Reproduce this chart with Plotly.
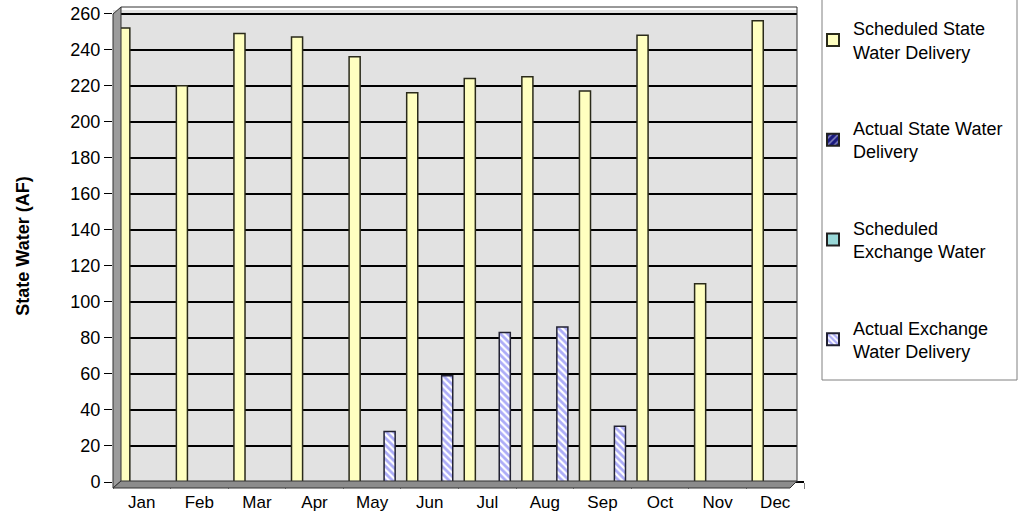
import plotly.graph_objects as go

months = ["Jan", "Feb", "Mar", "Apr", "May", "Jun", "Jul", "Aug", "Sep", "Oct", "Nov", "Dec"]
scheduled_state = [252, 220, 249, 247, 236, 216, 224, 225, 217, 248, 110, 256]
actual_state = [0, 0, 0, 0, 0, 0, 0, 0, 0, 0, 0, 0]
scheduled_exchange = [0, 0, 0, 0, 0, 0, 0, 0, 0, 0, 0, 0]
actual_exchange = [0, 0, 0, 0, 28, 59, 83, 86, 31, 0, 0, 0]
y_ticks = list(range(0, 261, 20))

FONT = "Liberation Sans, Arial, sans-serif"

fig = go.Figure()
fig.add_trace(go.Bar(
    x=months, y=scheduled_state, name="Scheduled State<br>Water Delivery",
    legendgroup="a",
    marker=dict(color="#ffffc0", line=dict(color="#2a2a1a", width=1.5)),
))
fig.add_trace(go.Bar(
    x=months, y=actual_state, name="Actual State Water<br>Delivery",
    legendgroup="b",
    marker=dict(color="#1a1a80", line=dict(color="#222222", width=1.5),
                pattern=dict(shape="/", fgcolor="#ffffff", bgcolor="#1a1a80", size=6, solidity=0.3)),
))
fig.add_trace(go.Bar(
    x=months, y=scheduled_exchange, name="Scheduled<br>Exchange Water",
    legendgroup="c",
    marker=dict(color="#99d8d8", line=dict(color="#222222", width=1.5)),
))
fig.add_trace(go.Bar(
    x=months, y=actual_exchange, name="Actual Exchange<br>Water Delivery",
    legendgroup="d",
    marker=dict(color="#ffffff", line=dict(color="#222233", width=1.5),
                pattern=dict(shape="\\", fgcolor="#5a5af0", bgcolor="#ffffff", size=5, solidity=0.55)),
))

L, R, T, B = 113, 223, 10, 32
W = 1027 - L - R
H = 514 - T - B

def px_x(p):
    return (p - L) / W

def px_y(p):
    return (514 - B - p) / H

shapes = [
    # white strip to the right of the back wall
    dict(type="rect", xref="paper", yref="paper",
         x0=px_x(797), x1=1.0, y0=px_y(481), y1=1.0,
         fillcolor="#ffffff", line=dict(width=0), layer="above"),
    # back wall right edge
    dict(type="line", xref="paper", yref="paper",
         x0=px_x(797), x1=px_x(797), y0=px_y(481), y1=px_y(7),
         line=dict(color="#333333", width=1), layer="above"),
    # left wall (3D look)
    dict(type="path", xref="paper", yref="paper",
         path=f"M 0 {px_y(488)} L 0 {px_y(14)} L {px_x(121)} {px_y(7)} L {px_x(121)} {px_y(481)} Z",
         fillcolor="#9c9c9c", line=dict(color="#333333", width=1), layer="above"),
    # back wall top edge
    dict(type="line", xref="paper", yref="paper",
         x0=px_x(121), x1=px_x(797), y0=px_y(7), y1=px_y(7),
         line=dict(color="#333333", width=1), layer="above"),
    # floor
    dict(type="path", xref="paper", yref="paper",
         path=f"M 0 {px_y(488)} L {px_x(121)} {px_y(481)} L {px_x(797)} {px_y(481)} L {px_x(790)} {px_y(488)} Z",
         fillcolor="#8c8c8c", line=dict(color="#333333", width=1), layer="above"),
    # legend box
    dict(type="rect", xref="paper", yref="paper",
         x0=px_x(822), x1=px_x(1017), y0=px_y(380), y1=px_y(-2),
         line=dict(color="#808080", width=1), fillcolor="rgba(0,0,0,0)"),
]

fig.update_layout(
    width=1027, height=514,
    margin=dict(l=L, r=R, t=T, b=B, autoexpand=False),
    paper_bgcolor="#ffffff",
    plot_bgcolor="#e2e2e2",
    barmode="group",
    bargap=0.19,
    bargroupgap=0.05,
    font=dict(family=FONT, size=18, color="#000000"),
    showlegend=True,
    legend=dict(
        xref="container", yref="container",
        x=813 / 1027, y=1.0 - 10 / 514, xanchor="left", yanchor="top",
        borderwidth=0, bgcolor="rgba(0,0,0,0)",
        font=dict(family=FONT, size=18, color="#000000"),
        tracegroupgap=50,
        itemsizing="constant",
        traceorder="grouped",
        maxheight=1.0,
    ),
    shapes=shapes,
)
fig.update_xaxes(
    showgrid=False, showline=False, ticks="outside", tickcolor="#808080",
    tickson="boundaries", ticklen=6, ticklabelstandoff=8,
    tickfont=dict(family=FONT, size=17),
)
fig.update_yaxes(
    range=[0, 262], tickvals=y_ticks, showgrid=True, gridcolor="#000000", gridwidth=1.5,
    zeroline=True, zerolinecolor="#000000", showline=False,
    ticks="outside", tickcolor="#000000", ticklen=8,
    tickfont=dict(family=FONT, size=18),
    title=dict(text="<b>State Water (AF)</b>", font=dict(family=FONT, size=18), standoff=36),
)

fig.write_html(
    "out.html",
    config={"displayModeBar": False},
    post_script="document.body.style.margin='0';document.body.style.overflow='hidden';",
)
